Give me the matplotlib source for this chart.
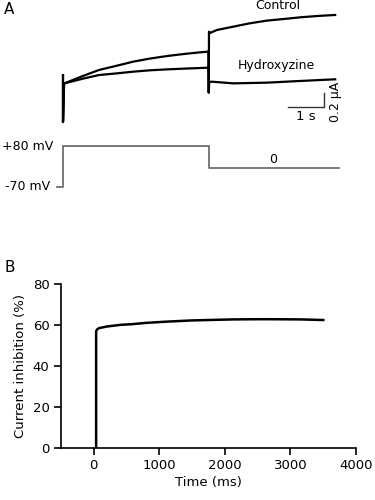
import matplotlib
matplotlib.use("Agg")
import matplotlib.pyplot as plt

plt.rcParams['font.family'] = ['DejaVu Sans']

# ---------------- Panel A data (time in s, current in uA) ----------------
pulse_t = [0.0, 0.0, 0.03, 0.55, 1.0, 1.5, 1.95, 2.4, 2.9, 3.35, 3.8, 4.04]
control_pulse_i = [0.67, 0.0, 0.55, 0.657, 0.743, 0.805, 0.862, 0.905, 0.943, 0.971, 0.995, 1.005]
hydrox_pulse_i = [0.67, 0.0, 0.55, 0.619, 0.671, 0.695, 0.719, 0.738, 0.752, 0.762, 0.771, 0.776]

tail_t = [4.04, 4.05, 4.055, 4.10, 4.27, 4.73, 5.19, 5.66, 6.12, 6.58, 7.05, 7.56]
control_tail_i = [1.005, 0.42, 1.29, 1.275, 1.314, 1.362, 1.410, 1.448, 1.471, 1.495, 1.514, 1.529]
hydrox_tail_t = [4.04, 4.05, 4.06, 4.13, 4.73, 5.66, 6.58, 7.56]
hydrox_tail_i = [0.776, 0.42, 0.57, 0.576, 0.552, 0.562, 0.586, 0.610]

# Voltage protocol (s, mV)
volt_t = [-0.16, 0.0, 0.0, 4.05, 4.05, 7.67]
volt_mv = [-70, -70, 80, 80, 0, 0]

scale_time = 1.0     # s
scale_current = 0.2  # uA

# ---------------- Panel B data ----------------
inhib_t = [40, 40, 60, 92, 200, 400, 600, 800, 1110, 1500, 2127, 2600, 3145, 3501]
inhib_pct = [0, 57, 58, 58.5, 59.2, 60.0, 60.4, 61.0, 61.6, 62.2, 62.7, 62.8, 62.7, 62.4]

W, H = 375, 500
fig = plt.figure(figsize=(3.75, 5), dpi=100)

def fx(x):
    return x / W

def fy(y):
    return 1 - y / H

# pixel->data mapping constants for layout of panel A
px_per_s = 36.0
t0_px = 63.0
px_per_ua = 70.0
i0_px = 122.0

tl = (0 - t0_px) / px_per_s
tr = (W - t0_px) / px_per_s

# Current axes: px y 0..130
axA = fig.add_axes([0, fy(130), 1, 130 / H])
axA.set_xlim(tl, tr)
axA.set_ylim((i0_px - 130) / px_per_ua, (i0_px - 0) / px_per_ua)
axA.axis('off')
lw = 1.6
axA.plot(pulse_t, control_pulse_i, color='black', lw=lw)
axA.plot(pulse_t, hydrox_pulse_i, color='black', lw=lw)
axA.plot(tail_t, control_tail_i, color='black', lw=lw)
axA.plot(hydrox_tail_t, hydrox_tail_i, color='black', lw=lw)

# scale bar
sx1 = 7.25
sx0 = sx1 - scale_time
sy0 = 0.214
axA.plot([sx0, sx1, sx1], [sy0, sy0, sy0 + scale_current], color='#333333', lw=1.0)
axA.text((sx0 + sx1) / 2, sy0 - 0.04, '1 s', ha='center', va='top', fontsize=9.5)
axA.text(sx1 + 0.33, sy0 + scale_current / 2 - 0.02, '0.2 μA', ha='center', va='center',
         rotation=90, fontsize=9)
axA.text(5.97, 1.66, 'Control', ha='center', va='center', fontsize=9)
axA.text(5.94, 0.80, 'Hydroxyzine', ha='center', va='center', fontsize=9)

# Voltage axes: px y 140..195
axV = fig.add_axes([0, fy(195), 1, 55 / H])
axV.set_xlim(tl, tr)
mv_per_px = 150 / 41.0
axV.set_ylim(-70 - (195 - 187) * mv_per_px, 80 + (146 - 140) * mv_per_px)
axV.axis('off')
axV.plot(volt_t, volt_mv, color='#6e6e6e', lw=1.3)
axV.text(-0.28, 80, '+80 mV', ha='right', va='center', fontsize=9)
axV.text(-0.36, -70, '-70 mV', ha='right', va='center', fontsize=9)
axV.text(5.83, 29, '0', ha='center', va='center', fontsize=9)

fig.text(fx(4), fy(10), 'A', ha='left', va='center', fontsize=11)
fig.text(fx(4), fy(268), 'B', ha='left', va='center', fontsize=11)

# ---------------- Panel B ----------------
axB = fig.add_axes([fx(60.7), fy(447.7), (356 - 60.7) / W, (447.7 - 284) / H])
axB.plot(inhib_t, inhib_pct, color='black', lw=1.8)
axB.set_xlim(-500, 4000)
axB.set_ylim(0, 80)
axB.set_xticks([0, 1000, 2000, 3000, 4000])
axB.set_yticks([0, 20, 40, 60, 80])
for s in ['top', 'right']:
    axB.spines[s].set_visible(False)
for s in ['left', 'bottom']:
    axB.spines[s].set_linewidth(1.2)
axB.tick_params(direction='out', length=5, width=1.2, labelsize=9.5, pad=3)
axB.set_xlabel('Time (ms)', fontsize=9.5, labelpad=3)
axB.set_ylabel('Current inhibition (%)', fontsize=9.5, labelpad=4)

fig.savefig('out.png', dpi=100)
